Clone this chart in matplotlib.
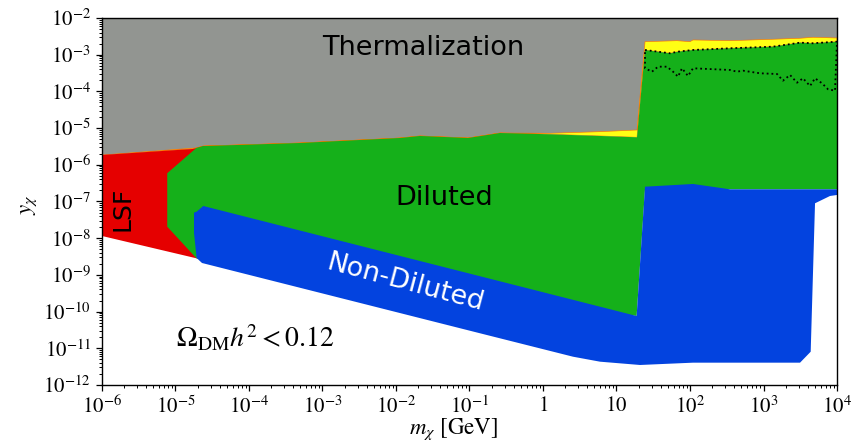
import matplotlib
matplotlib.use("Agg")
import matplotlib.pyplot as plt
import numpy as np

plt.rcParams['font.family'] = 'STIXGeneral'
plt.rcParams['mathtext.fontset'] = 'stix'

# --- boundaries, stored as log10(m_chi / GeV) and log10(y_chi) ---
# upper edge of the allowed region (thermalization bound)
therm_logm = [-6.0, -4.762, -4.626, -3.306, -1.946, -1.673, -1.020, -0.585, 0.095, 0.776, 1.279,
              1.388, 1.823, 2.000, 2.041, 2.544, 3.129, 3.497, 3.673, 4.0]
therm_logy = [-5.733, -5.569, -5.490, -5.406, -5.270, -5.215, -5.270, -5.134, -5.142, -5.098, -5.052,
              -2.646, -2.619, -2.646, -2.599, -2.619, -2.580, -2.553, -2.526, -2.545]

# top of the diluted (green) region
dil_top_logm = [-4.715, -4.626, -3.306, -1.946, -1.673, -1.020, -0.585, 0.095, 0.776, 1.279,
                1.388, 1.728, 1.837, 2.041, 2.544, 3.129, 3.497, 3.673, 4.0]
dil_top_logy = [-5.540, -5.490, -5.406, -5.270, -5.215, -5.270, -5.134, -5.169, -5.215, -5.251,
                -2.872, -2.962, -2.918, -2.872, -2.826, -2.782, -2.673, -2.689, -2.646]
# left and lower edges of the diluted region
dil_low_logm = [4.0, 1.388, 1.274, -4.715, -5.112, -5.112]
dil_low_logy = [-6.667, -6.667, -10.12, -8.548, -7.687, -6.230]

# LSF (red) region
lsf_logm = [-6.0, -4.762, -4.60, -4.60, -4.715, -6.0]
lsf_logy = [-5.733, -5.569, -5.49, -8.60, -8.548, -7.940]

# non-diluted (blue) region outline
nondil_logm = [-4.748, -4.712, -4.622, 1.274, 1.388, 2.041, 2.544, 4.0, 4.0, 3.905, 3.701,
               3.642, 3.497, 2.041, 1.320, 0.776, 0.408, -0.857, -4.639, -4.712, -4.748]
nondil_logy = [-7.305, -7.278, -7.123, -10.12, -6.597, -6.523, -6.668, -6.668, -6.823, -6.850, -7.049,
               -11.093, -11.392, -11.392, -11.455, -11.365, -11.229, -10.591, -8.676, -8.540, -7.858]

# lower dotted contour at high mass
dot_logm = [1.388, 1.483, 1.565, 1.687, 1.769, 1.837, 1.891, 1.973, 2.041, 2.544, 2.639, 2.721,
            2.952, 3.184, 3.265, 3.361, 3.456, 3.537, 3.633, 3.701, 3.796, 3.878, 3.973]
dot_logy = [-3.371, -3.463, -3.327, -3.327, -3.463, -3.599, -3.371, -3.580, -3.371, -3.417, -3.463,
            -3.436, -3.507, -3.526, -3.708, -3.553, -3.763, -3.643, -3.853, -3.643, -3.779, -3.943,
            -3.981]

xticks_log = np.arange(-6, 5)
xtick_labels = [r'$10^{-6}$', r'$10^{-5}$', r'$10^{-4}$', r'$10^{-3}$', r'$10^{-2}$', r'$10^{-1}$',
                r'$1$', r'$10$', r'$10^{2}$', r'$10^{3}$', r'$10^{4}$']
yticks_log = np.arange(-12, -1)


def p(logs):
    return 10.0 ** np.asarray(logs)


fig = plt.figure(figsize=(8.54, 4.46), dpi=100)
ax = fig.add_axes([0.1194, 0.1368, 0.8607, 0.8229])
ax.set_xscale('log')
ax.set_yscale('log')
ax.set_xlim(1e-6, 1e4)
ax.set_ylim(1e-12, 1e-2)

# thermalized region above the bound
ax.fill_between(p(therm_logm), p(therm_logy), 1e-2, color='xkcd:grey', lw=0, zorder=1)

# thin yellow band between the bound and the diluted region
band_x = np.concatenate([p(therm_logm), p(dil_top_logm)[::-1]])
band_y = np.concatenate([p(therm_logy), p(dil_top_logy)[::-1]])
ax.fill(band_x, band_y, facecolor='xkcd:yellow', edgecolor='xkcd:orange', lw=0.45, zorder=2)

ax.fill(p(lsf_logm), p(lsf_logy), color='xkcd:red', lw=0, zorder=3)

dil_x = np.concatenate([p(dil_top_logm), p(dil_low_logm)])
dil_y = np.concatenate([p(dil_top_logy), p(dil_low_logy)])
ax.fill(dil_x, dil_y, color='xkcd:green', lw=0, zorder=4)

ax.fill(p(nondil_logm), p(nondil_logy), color='xkcd:blue', lw=0, zorder=5)

# dotted contour inside the diluted region
hi = np.array(dil_top_logm) >= 1.388
loop_x = np.concatenate([p(np.array(dil_top_logm)[hi]), p(dot_logm)[::-1], [p(1.388)]])
loop_y = np.concatenate([p(np.array(dil_top_logy)[hi]), p(dot_logy)[::-1], [p(dil_top_logy[10])]])
ax.plot(loop_x, loop_y, ls=':', color='black', lw=1.3, zorder=6)

# region labels
sans = 'DejaVu Sans'
ax.text(p(-1.626), p(-3.008), 'Thermalization', family=sans, fontsize=19.5,
        ha='center', va='baseline', zorder=7)
ax.text(p(-1.347), p(-7.095), 'Diluted', family=sans, fontsize=19.5,
        ha='center', va='baseline', zorder=7)
ax.text(p(-1.898), p(-9.411), 'Non-Diluted', family=sans, fontsize=19.5, color='white',
        ha='center', va='baseline', rotation=-15, rotation_mode='anchor', zorder=7)
ax.text(p(-5.619), p(-7.191), 'LSF', family=sans, fontsize=18,
        ha='center', va='baseline', rotation=90, rotation_mode='anchor', zorder=7)
ax.text(p(-3.918), p(-10.965), r'$\Omega_{\rm DM}h^2 < 0.12$', fontsize=20,
        ha='center', va='baseline', zorder=7)

# axes
ax.set_xticks(p(xticks_log))
ax.set_xticklabels(xtick_labels)
ax.set_yticks(p(yticks_log))
ax.set_yticklabels([r'$10^{%d}$' % v for v in yticks_log])
ax.xaxis.set_minor_locator(matplotlib.ticker.LogLocator(base=10, subs=np.arange(2, 10), numticks=100))
ax.yaxis.set_minor_locator(matplotlib.ticker.LogLocator(base=10, subs=np.arange(2, 10), numticks=100))
ax.xaxis.set_minor_formatter(matplotlib.ticker.NullFormatter())
ax.yaxis.set_minor_formatter(matplotlib.ticker.NullFormatter())
ax.tick_params(which='major', labelsize=15, length=4.5, width=0.9)
ax.tick_params(which='minor', length=2.5, width=0.7)

ax.set_xlabel(r'$m_\chi$ [GeV]', fontsize=16.5)
ax.set_ylabel(r'$y_\chi$', fontsize=16.5)
ax.xaxis.set_label_coords(0.478, -0.085)
ax.yaxis.set_label_coords(-0.086, 0.49)

for s in ax.spines.values():
    s.set_linewidth(1.0)
    s.set_zorder(8)

fig.savefig('out.png', dpi=100)
